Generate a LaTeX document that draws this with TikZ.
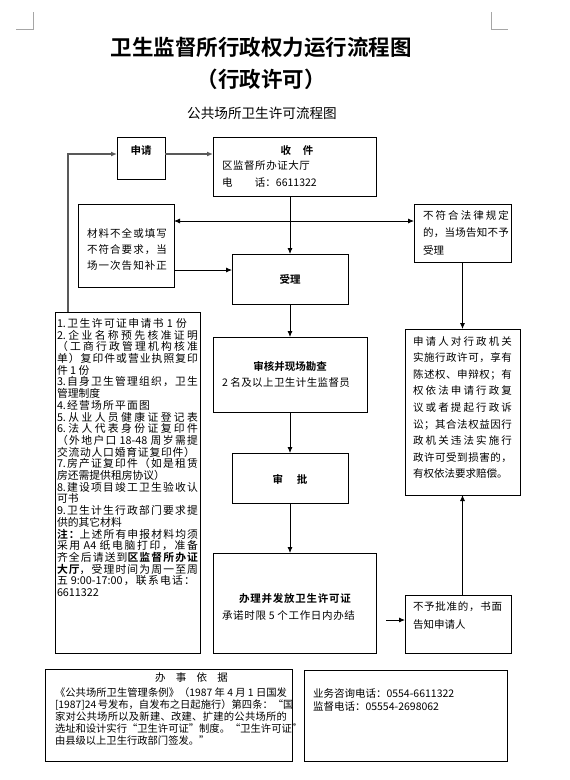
\documentclass[tikz,border=0pt]{standalone}
\usepackage{fontspec}
\setmainfont{Noto Sans CJK SC}[BoldFont={Noto Sans CJK SC Bold}]
\usetikzlibrary{arrows.meta}
\newXeTeXintercharclass\cjkcls
\newcount\cjkcnt
\newcommand{\setcjkrange}[2]{\cjkcnt=#1\relax
  \loop \XeTeXcharclass\cjkcnt=\cjkcls \ifnum\cjkcnt<#2\relax \advance\cjkcnt by 1 \repeat}
\setcjkrange{"3000}{"303F}
\setcjkrange{"4E00}{"9FFF}
\setcjkrange{"FF00}{"FFEF}
\XeTeXcharclass"201C=\cjkcls
\XeTeXcharclass"201D=\cjkcls
\XeTeXinterchartoks\cjkcls\cjkcls={\hskip0pt plus 2pt\relax}
\XeTeXinterchartoks\cjkcls 0={\hskip0pt plus 2pt\relax}
\XeTeXinterchartoks 0\cjkcls={\hskip0pt plus 2pt\relax}
\XeTeXinterchartokenstate=1
\newcommand{\jline}[2]{\makebox[#1pt][s]{#2}}
\newcommand{\fsz}[2]{\fontsize{#1pt}{#2pt}\selectfont}
\begin{document}
\begin{tikzpicture}[x=1pt,y=-1pt,
  box/.style={draw, line width=1pt, inner sep=0pt, outer sep=0pt},
  t/.style={inner sep=0pt, outer sep=0pt, font=\fsz{10.5}{12}},
  bt/.style={inner sep=0pt, outer sep=0pt, font=\fsz{10.5}{12}\bfseries},
  conn/.style={draw, line width=0.8pt, -{Latex[length=6pt,width=5pt]}},
  fbline/.style={draw=black!65, line width=1.4pt, -{Latex[length=6pt,width=5pt]}},
  cornermark/.style={draw=black!35, line width=0.8pt}]
\useasboundingbox (0,0) rectangle (570,780);
% corner marks
\draw[cornermark] (16,29) -- (33,29) -- (33,12);
\draw[cornermark] (491,12) -- (491,29) -- (508,29);
% titles
\node[inner sep=0pt, font=\fsz{21.5}{24}\bfseries] (title1) at (261,47) {卫生监督所行政权力运行流程图};
\node[inner sep=0pt, font=\fsz{21.5}{24}\bfseries] (title2) at (261,79) {（行政许可）};
\node[inner sep=0pt, font=\fsz{13.6}{16}] (title3) at (262,113) {公共场所卫生许可流程图};
% boxes
\node[box, minimum width=48, minimum height=42] (shenqing) at (141,158) {};
\node[box, minimum width=163, minimum height=59] (shoujian) at (294.5,166.5) {};
\node[box, minimum width=96, minimum height=83] (cailiao) at (126,245.5) {};
\node[box, minimum width=97, minimum height=58] (bufu) at (462.5,233) {};
\node[box, minimum width=116, minimum height=50] (shouli) at (290,279) {};
\node[box, minimum width=154, minimum height=75] (shenhe) at (290,374.5) {};
\node[box, minimum width=116, minimum height=50] (shenpi) at (290,478) {};
\node[box, minimum width=163, minimum height=100] (banli) at (294.5,603) {};
\node[box, minimum width=106, minimum height=58] (bupi) at (458,624) {};
\node[box, minimum width=115, minimum height=166] (sqr) at (462.5,412) {};
\node[box, minimum width=145, minimum height=341] (list) at (127.5,482.5) {};
\node[box, minimum width=247, minimum height=92] (yiju) at (168.5,715) {};
\node[box, minimum width=203, minimum height=91] (lianxi) at (405.5,715.5) {};
% texts
\node[bt] (tshenqing) at (141,151) {申请};
\node[bt] (tshoujian) at (297,151) {收\hspace{12pt}件};
\node[t, anchor=west] (tshoujian2) at (222,166) {\jline{88}{区监督所办证大厅}};
\node[t, anchor=west] (tshoujian3) at (222,183) {电\hspace{22.5pt}话：6611322};
\node[t, anchor=west, align=left, font=\fsz{10.5}{16}] (tcailiao) at (87,249)
  {\jline{80}{材料不全或填写}\\\jline{80}{不符合要求，当}\\\jline{80}{场一次告知补正}};
\node[t, anchor=west, align=left, font=\fsz{10.5}{17.5}] (tbufu) at (423,232.5)
  {\jline{86}{不符合法律规定}\\\jline{86}{的，当场告知不予}\\受理};
\node[bt] (tshouli) at (290,279) {受理};
\node[bt] (tshenhe) at (290,366) {审核并现场勘查};
\node[t, anchor=west] (tshenhe2) at (222,383) {\jline{128}{2 名及以上卫生计生监督员}};
\node[bt] (tshenpi) at (290,479) {审\hspace{14pt}批};
\node[bt] (tbanli) at (295,599) {\jline{112}{办理并发放卫生许可证}};
\node[t, anchor=west] (tbanli2) at (222,616) {\jline{133}{承诺时限 5 个工作日内办结}};
\node[t, anchor=west, align=left, font=\fsz{10.5}{18}] (tbupi) at (413,616)
  {\jline{89}{不予批准的，书面}\\告知申请人};
\node[t, anchor=west, align=left, font=\fsz{10.5}{16.6}] (tsqr) at (413,407.5)
  {\jline{99}{申请人对行政机关}\\
   \jline{99}{实施行政许可，享有}\\
   \jline{99}{陈述权、申辩权；有}\\
   \jline{99}{权依法申请行政复}\\
   \jline{99}{议或者提起行政诉}\\
   \jline{99}{讼；其合法权益因行}\\
   \jline{99}{政机关违法实施行}\\
   \jline{99}{政许可受到损害的，}\\
   有权依法要求赔偿。};
\node[t, anchor=west, align=left, font=\fsz{10.8}{11.7}] (tlist) at (57,457.5)
  {\jline{130}{1.卫生许可证申请书 1 份}\\
   \jline{141}{2.企业名称预先核准证明}\\
   \jline{141}{（工商行政管理机构核准}\\
   \jline{141}{单）复印件或营业执照复印}\\
   件 1 份\\
   \jline{141}{3.自身卫生管理组织，卫生}\\
   管理制度\\
   \jline{93}{4.经营场所平面图}\\
   \jline{141}{5.从业人员健康证登记表}\\
   \jline{141}{6.法人代表身份证复印件}\\
   \jline{141}{（外地户口 18-48 周岁需提}\\
   \jline{138}{交流动人口婚育证复印件）}\\
   \jline{141}{7.房产证复印件（如是租赁}\\
   房还需提供租房协议）\\
   \jline{141}{8.建设项目竣工卫生验收认}\\
   可书\\
   \jline{141}{9.卫生计生行政部门要求提}\\
   供的其它材料\\
   \jline{141}{\textbf{注：}上述所有申报材料均须}\\
   \jline{141}{采用 A4 纸电脑打印，准备}\\
   \jline{141}{齐全后请送到\textbf{区监督所办证}}\\
   \jline{141}{\textbf{大厅}，受理时间为周一至周}\\
   \jline{138}{五 9:00-17:00，联系电话：}\\
   6611322};
\node[t] (tyiju1) at (191.5,678) {\jline{73}{办 事 依 据}};
\node[t, anchor=west, align=left, font=\fsz{10.3}{12}] (tyiju2) at (55,717)
  {\jline{232}{《公共场所卫生管理条例》（1987 年 4 月 1 日国发}\\
   \jline{232}{[1987]24 号发布，自发布之日起施行）第四条：“国}\\
   \jline{232}{家对公共场所以及新建、改建、扩建的公共场所的}\\
   \jline{232}{选址和设计实行“卫生许可证”制度。“卫生许可证”}\\
   由县级以上卫生行政部门签发。”};
\node[t, anchor=west, align=left, font=\fsz{10.5}{13}] (tlianxi) at (313,699.5)
  {业务咨询电话：0554-6611322\\监督电话：05554-2698062};
% helper coordinates
\coordinate (fbx) at (68,0);
\coordinate (fork) at (290,221);
\coordinate (y270) at (0,270);
\coordinate (c3) at (386,620);
% connectors
\draw[fbline] (list.north -| fbx) |- ([yshift=4pt]shenqing.west);
\draw[fbline] ([yshift=4pt]shenqing.east) -- ([yshift=4pt]shenqing.east -| shoujian.west);
\draw[conn] (shouli.north |- shoujian.south) -- (shouli.north);
\draw[conn] (fork) -- (fork -| cailiao.east);
\draw[conn] (fork) -- (fork -| bufu.west);
\draw[conn] (cailiao.east |- y270) -- (y270 -| shouli.west);
\draw[conn] (shouli.south) -- (shenhe.north);
\draw[conn] (shenhe.south) -- (shenpi.north);
\draw[conn] (shenpi.south) -- (shenpi.south |- banli.north);
\draw[conn] (c3) -- (c3 -| bupi.west);
\draw[conn] (bufu.south) -- (bufu.south |- sqr.north);
\draw[conn] (sqr.south |- bupi.north) -- (sqr.south);
\end{tikzpicture}
\end{document}
